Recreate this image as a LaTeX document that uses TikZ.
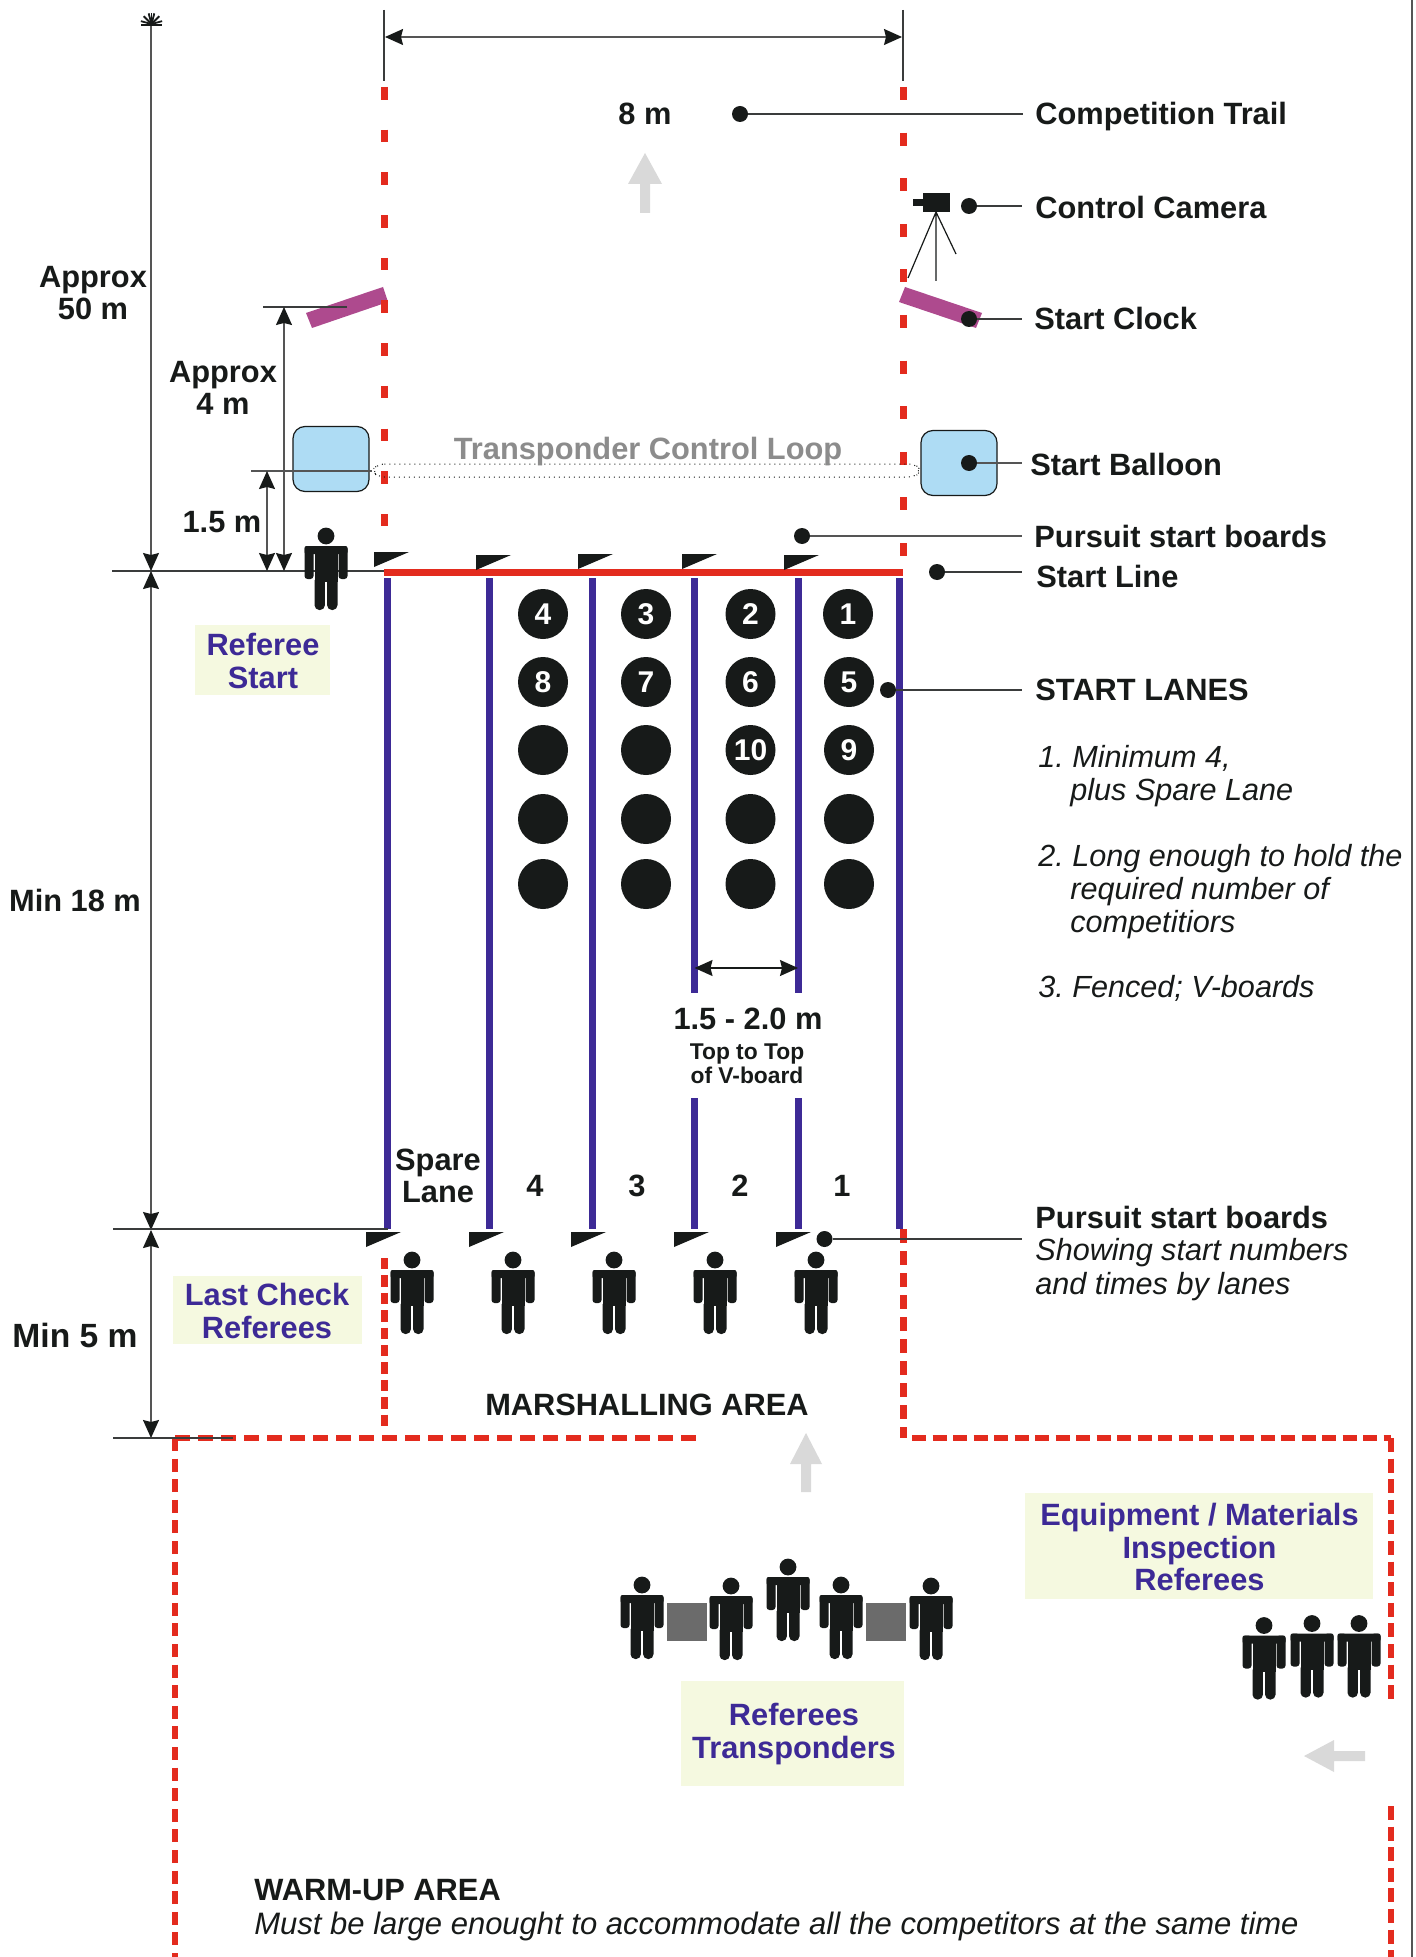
\documentclass[tikz,border=0pt]{standalone}
\usepackage{fontspec}
\setmainfont{Liberation Sans}
\usetikzlibrary{arrows.meta}
\definecolor{ink}{HTML}{171A19}
\definecolor{trailred}{HTML}{E32B1E}
\definecolor{lanebl}{HTML}{3D2A96}
\definecolor{clockp}{HTML}{AE4A8E}
\definecolor{balloon}{HTML}{AEDCF4}
\definecolor{paleb}{HTML}{F5F9E0}
\definecolor{softgr}{HTML}{D9D9D9}
\definecolor{dimgr}{HTML}{555555}
\newcommand{\fsz}[1]{\fontsize{#1}{16.3}\selectfont\frenchspacing}
\tikzset{
  x=0.5pt,y=-0.5pt,
  txt/.style={inner sep=0pt,text=ink,font=\fsz{15.4}\bfseries},
  left txt/.style={txt,anchor=base west},
  itxt/.style={inner sep=0pt,text=ink,font=\fsz{15.5}\itshape,anchor=base west},
  ltxt/.style={itxt,font=\fsz{15.3}\itshape},
  ctxt/.style={txt,align=center},
  blue txt/.style={inner sep=0pt,text=lanebl,font=\fsz{15.4}\bfseries,align=center},
  dotm/.style={circle,fill=ink,inner sep=0pt,minimum size=8pt},
  leader/.style={line width=0.7pt,draw=ink!85!white},
  dim/.style={line width=0.7pt,draw=dimgr},
  ext/.style={line width=0.7pt,draw=ink!85!white},
  darr/.style={dim,{Stealth[length=9pt,width=8pt,inset=1pt,color=ink]}-{Stealth[length=9pt,width=8pt,inset=1pt,color=ink]}},
  lane/.style={line width=3.5pt,draw=lanebl},
  numc/.style={circle,fill=ink,inner sep=0pt,minimum size=25pt,text=white,font=\fsz{15}\bfseries},
  paleboard/.style={fill=paleb,draw=none},
  person/.pic={
    \fill[ink] (0,0) circle [radius=4.2pt];
    \fill[ink,rounded corners=1.5pt] (-21.5,10) rectangle (-12.5,43);
    \fill[ink,rounded corners=1.5pt] (12.5,10) rectangle (21.5,43);
    \fill[ink,rounded corners=1pt] (-21.5,10) rectangle (21.5,18);
    \fill[ink] (-11.5,12) rectangle (11.5,46);
    \fill[ink,rounded corners=2.4pt] (-11.5,40) rectangle (-1.1,74);
    \fill[ink,rounded corners=2.4pt] (1.1,40) rectangle (11.5,74);
  },
  flag/.pic={\fill[ink] (0,0) -- (35,0) -- (0,15) -- cycle;}
}
\begin{document}
\begin{tikzpicture}
\useasboundingbox (0,0) rectangle (1416,1957);
\fill[white] (0,0) rectangle (1416,1957);
% right border
\draw[line width=0.8pt,draw=dimgr] (1412,0) -- (1412,1957);

% pale boards
\fill[paleboard] (195,625) rectangle (330,695);
\fill[paleboard] (173,1276) rectangle (362,1344);
\fill[paleboard] (1025,1493) rectangle (1373,1599);
\fill[paleboard] (681,1681) rectangle (904,1786);

% dashed red trails
\draw[line width=3.5pt,draw=trailred,dash pattern=on 6.3pt off 15.05pt] (384,87) -- (384,526);
\draw[line width=3.5pt,draw=trailred,dash pattern=on 6.5pt off 16.3pt] (903,87) -- (903,556);
\draw[line width=3.5pt,draw=trailred,dash pattern=on 5.7pt off 3pt] (384,1258) -- (384,1431);
\draw[line width=3.5pt,draw=trailred,dash pattern=on 7.2pt off 3.8pt] (903,1229) -- (903,1438);
\draw[line width=3.2pt,draw=trailred,dash pattern=on 7.5pt off 4pt] (175,1438) -- (697,1438);
\draw[line width=3.2pt,draw=trailred,dash pattern=on 6.5pt off 3.8pt] (175,1438) -- (175,1957);
\draw[line width=3.2pt,draw=trailred,dash pattern=on 7pt off 3.25pt] (912,1438) -- (1391,1438);
\draw[line width=3.4pt,draw=trailred,dash pattern=on 7pt off 3.3pt] (1391,1438) -- (1391,1702);
\draw[line width=3.4pt,draw=trailred,dash pattern=on 7pt off 3.3pt] (1391,1806) -- (1391,1957);

% soft arrows
\fill[softgr] (645,153) -- (662,184) -- (650,184) -- (650,213) -- (640,213) -- (640,184) -- (628,184) -- cycle;
\fill[softgr] (806,1433) -- (822,1464) -- (811,1464) -- (811,1492) -- (801,1492) -- (801,1464) -- (790,1464) -- cycle;
\fill[softgr] (1304,1756) -- (1334,1740) -- (1334,1751) -- (1365,1751) -- (1365,1761) -- (1334,1761) -- (1334,1772) -- cycle;

% lanes
\draw[lane] (387.5,578) -- (387.5,1229);
\draw[lane] (489.5,578) -- (489.5,1229);
\draw[lane] (592.5,578) -- (592.5,1229);
\draw[lane] (694.5,578) -- (694.5,993);
\draw[lane] (694.5,1098) -- (694.5,1229);
\draw[lane] (798,578) -- (798,993);
\draw[lane] (798,1098) -- (798,1229);
\draw[lane] (899.5,578) -- (899.5,1229);
\draw[line width=3.5pt,draw=trailred] (384,572) -- (903,572);

% balloons
\node[draw=ink,line width=0.6pt,fill=balloon,rounded corners=6pt,minimum width=38pt,minimum height=32.5pt,inner sep=0pt] (ballL) at (331,459) {};
\node[draw=ink,line width=0.6pt,fill=balloon,rounded corners=6pt,minimum width=38pt,minimum height=32.5pt,inner sep=0pt] (ballR) at (959,463) {};
% transponder loop
\draw[line width=0.5pt,dotted,draw=ink,rounded corners=3.2pt] (378,464) -- (915,464) -- (921,470.5) -- (915,477) -- (378,477) -- (372,470.5) -- cycle;
\node[inner sep=0pt,text=black!45,font=\fsz{15.4}\bfseries] (tcl) at (648,452) {Transponder Control Loop};

% clocks
\fill[clockp] (306,313) -- (383,287) -- (388,302) -- (312,328) -- cycle;
\fill[clockp] (905,287) -- (982,313) -- (976,328) -- (899,302) -- cycle;
% redraw trail dashes on top of left clock
\fill[trailred] (380.5,300) rectangle (387.5,313);

% camera
\fill[ink] (923,193) rectangle (950,212);
\fill[ink] (913,199) rectangle (923,206);
\coordinate (tri) at (936,212);
\coordinate (tria) at (908,278);
\coordinate (trib) at (936,281);
\coordinate (tric) at (956,254);
\draw[line width=0.6pt,draw=ink] (tria) -- (tri) -- (tric) (tri) -- (trib);

% dimension lines
\coordinate (topL) at (384,10); \coordinate (topLb) at (384,81);
\coordinate (topR) at (903,10); \coordinate (topRb) at (903,81);
\draw[ext] (topL) -- (topLb);
\draw[ext] (topR) -- (topRb);
\coordinate (wa) at (385,37); \coordinate (wb) at (902,37);
\draw[darr] (wa) -- (wb);

\coordinate (h50) at (151,25);
\coordinate (h0) at (151,571);
\coordinate (h18) at (151,1230);
\coordinate (h5) at (151,1438);
\draw[dim,-{Stealth[length=9pt,width=8pt,inset=1pt,color=ink]}] (h50) -- (h0);
\draw[darr] (h0) -- (h18);
\draw[darr] (h18) -- (h5);
% sunburst
\draw[line width=1.1pt,draw=ink] (141,25) -- (162,25);
\foreach \a in {15,45,75,90,105,135,165}
  \draw[line width=0.9pt,draw=ink] (151.5,24) -- ++({11*cos(\a)},{-11*sin(\a)});

\coordinate (e0a) at (112,571); \coordinate (e0b) at (384,571);
\draw[ext] (e0a) -- (e0b);
\coordinate (e18a) at (113,1229); \coordinate (e18b) at (388,1229);
\draw[ext] (e18a) -- (e18b);
\coordinate (e5a) at (113,1438); \coordinate (e5b) at (233,1438);
\draw[ext] (e5a) -- (e5b);
\coordinate (e15a) at (251,471); \coordinate (e15b) at (372,471);
\draw[dim] (e15a) -- (e15b);
\coordinate (e4a) at (263,307); \coordinate (e4b) at (347,307);
\draw[ext] (e4a) -- (e4b);
\coordinate (a4t) at (284,307); \coordinate (a4b) at (284,571);
\draw[darr] (a4t) -- (a4b);
\coordinate (a15t) at (267,471); \coordinate (a15b) at (267,571);
\draw[darr] (a15t) -- (a15b);
\coordinate (lw1) at (694.5,968); \coordinate (lw2) at (798,968);
\draw[line width=0.7pt,draw=ink,{Stealth[length=9pt,width=8pt,inset=1pt,color=ink]}-{Stealth[length=9pt,width=8pt,inset=1pt,color=ink]}] (lw1) -- (lw2);

% V-board flags
\foreach \x/\y in {374/552,476/555,578/554,682/554,784/555} \pic at (\x,\y) {flag};
\foreach \x in {366,469,571,674,776} \pic at (\x,1232) {flag};

% people
\pic at (326,536) {person};
\foreach \x in {412,513,614,715,816} \pic at (\x,1260) {person};
\foreach \x/\y in {642/1585,731/1586,788/1567,841/1585,931/1586} \pic at (\x,\y) {person};
\foreach \x/\y in {1264/1625.5,1312/1623.5,1359/1623.5} \pic at (\x,\y) {person};
\fill[black!58] (667,1603) rectangle (707,1641);
\fill[black!58] (866,1603) rectangle (906,1641);

% numbered starters
\node[numc] (n4) at (543,614) {4};
\node[numc] (n3) at (646,614) {3};
\node[numc] (n2) at (750.5,614) {2};
\node[numc] (n1) at (848,614) {1};
\node[numc] (n8) at (543,682) {8};
\node[numc] (n7) at (646,682) {7};
\node[numc] (n6) at (750.5,682) {6};
\node[numc] (n5) at (849,682) {5};
\node[numc] (n0a) at (543,750) {};
\node[numc] (n0b) at (646,750) {};
\node[numc] (n10) at (750.5,750) {10};
\node[numc] (n9) at (849,750) {9};
\foreach \x in {543,646,750.5,849} {
  \node[numc] at (\x,819) {};
  \node[numc] at (\x,884) {};
}

% leaders and dots
\node[dotm] (dTrail) at (740,114) {}; \coordinate (eTrail) at (1023,114);
\draw[leader] (dTrail) -- (eTrail);
\node[dotm] (dCam) at (969,206) {}; \coordinate (eCam) at (1022,206);
\draw[leader] (dCam) -- (eCam);
\node[dotm] (dClock) at (969,319) {}; \coordinate (eClock) at (1022,319);
\draw[leader] (dClock) -- (eClock);
\node[dotm] (dBall) at (969,463) {}; \coordinate (eBall) at (1022,463);
\draw[dim] (dBall) -- (eBall);
\node[dotm] (dPur) at (802,536) {}; \coordinate (ePur) at (1022,536);
\draw[dim] (dPur) -- (ePur);
\node[dotm] (dLine) at (937,572) {}; \coordinate (eLine) at (1022,572);
\draw[leader] (dLine) -- (eLine);
\node[dotm] (dLanes) at (888,690) {}; \coordinate (eLanes) at (1022,690);
\draw[leader] (dLanes) -- (eLanes);
\node[dotm] (dPurB) at (824.5,1239) {}; \coordinate (ePurB) at (1022,1239);
\draw[leader] (dPurB) -- (ePurB);

% labels right
\node[left txt] (lTrail) at (1035,125) {Competition Trail};
\node[left txt] (lCam) at (1035,219) {Control Camera};
\node[left txt] (lClock) at (1034,330) {Start Clock};
\node[left txt] (lBall) at (1030,475) {Start Balloon};
\node[left txt] (lPur) at (1034,547) {Pursuit start boards};
\node[left txt] (lLine) at (1036,587) {Start Line};
\node[left txt] (lLanes) at (1035,700) {START LANES};
\node[ltxt] (i1) at (1038,767) {1. Minimum 4,};
\node[ltxt] (i1b) at (1070,800) {plus Spare Lane};
\node[ltxt] (i2) at (1038,866) {2. Long enough to hold the};
\node[ltxt] (i2b) at (1070,899) {required number of};
\node[ltxt] (i2c) at (1070,932) {competitiors};
\node[ltxt] (i3) at (1038,997) {3. Fenced; V-boards};
\node[left txt] (lPurB) at (1035,1228) {Pursuit start boards};
\node[ltxt] (s1) at (1035,1260) {Showing start numbers};
\node[ltxt] (s2) at (1035,1294) {and times by lanes};

% labels centre and left
\node[ctxt] (l8) at (645,114) {8 m};
\node[ctxt] (lA50) at (93,293) {Approx\\50 m};
\node[ctxt] (lA4) at (223,388) {Approx\\4 m};
\node[ctxt] (l15) at (222,522) {1.5 m};
\node[ctxt] (l18) at (75,900) {Min 18 m};
\node[ctxt,font=\fsz{16.8}\bfseries] (l5) at (75,1335) {Min 5 m};
\node[blue txt] (bRS) at (263,661) {Referee\\Start};
\node[blue txt] (bLC) at (267,1311) {Last Check\\Referees};
\node[blue txt] (bEq) at (1199.5,1547) {Equipment / Materials\\Inspection\\Referees};
\node[blue txt] (bRT) at (794,1734) {Referees\\Transponders};
\node[ctxt] (lw) at (748,1019) {1.5 - 2.0 m};
\node[inner sep=0pt,text=ink,align=center,font=\fontsize{11.4}{11.8}\selectfont\bfseries] (lww) at (747,1064) {Top to Top\\of V-board};
\node[ctxt] (sp) at (438,1176) {Spare\\Lane};
\node[ctxt] (ln4) at (535,1186) {4};
\node[ctxt] (ln3) at (637,1186) {3};
\node[ctxt] (ln2) at (740,1186) {2};
\node[ctxt] (ln1) at (842,1186) {1};
\node[ctxt] (lM) at (647,1405) {MARSHALLING AREA};
\node[left txt] (lW) at (254,1900) {WARM-UP AREA};
\node[itxt] (lWi) at (254,1934) {Must be large enought to accommodate all the competitors at the same time};
\end{tikzpicture}
\end{document}
